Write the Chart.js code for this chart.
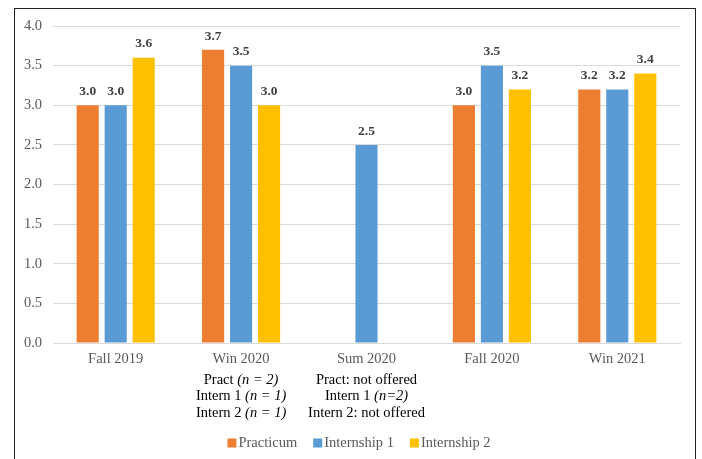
<!DOCTYPE html>
<html>
<head>
<meta charset="utf-8">
<script src="https://cdn.jsdelivr.net/npm/chart.js@4/dist/chart.umd.min.js"></script>
<style>
  html, body { margin: 0; padding: 0; background: #fff; }
  #wrap { position: relative; width: 702px; height: 459px; overflow: hidden; }
  #frame { position: absolute; left: 14px; top: 8px; width: 682px; height: 470px;
           border: 1.5px solid #222; box-sizing: border-box; pointer-events: none; }
  canvas { position: absolute; left: 0; top: 0; }
</style>
</head>
<body>
<div id="wrap">
  <canvas id="c" width="702" height="459"></canvas>
  <div id="frame"></div>
</div>
<script>
const terms = ['Fall 2019', 'Win 2020', 'Sum 2020', 'Fall 2020', 'Win 2021'];
const practicum   = [3.0, 3.7, null, 3.0, 3.2];
const internship1 = [3.0, 3.5, 2.5, 3.5, 3.2];
const internship2 = [3.6, 3.0, null, 3.2, 3.4];
const seriesNames = ['Practicum', 'Internship 1', 'Internship 2'];
const yTicks = [0, 0.5, 1, 1.5, 2, 2.5, 3, 3.5, 4];

// Enrollment notes under two of the terms; each line is a list of [text, italic] runs
const termNotes = {
  'Win 2020': [
    [['Pract ', false], ['(n = 2)', true]],
    [['Intern 1 ', false], ['(n = 1)', true]],
    [['Intern 2 ', false], ['(n = 1)', true]]
  ],
  'Sum 2020': [
    [['Pract: not offered', false]],
    [['Intern 1 ', false], ['(n=2)', true]],
    [['Intern 2: not offered', false]]
  ]
};

const SERIF = '"Liberation Serif", "Times New Roman", serif';

const valueLabels = {
  id: 'valueLabels',
  afterDatasetsDraw(chart) {
    const ctx = chart.ctx;
    ctx.save();
    ctx.font = 'bold 13.5px ' + SERIF;
    ctx.fillStyle = '#404040';
    ctx.textAlign = 'center';
    ctx.textBaseline = 'bottom';
    chart.data.datasets.forEach((ds, i) => {
      const meta = chart.getDatasetMeta(i);
      meta.data.forEach((bar, j) => {
        const v = ds.data[j];
        if (v === null || v === undefined) return;
        ctx.fillText(v.toFixed(1), bar.x, bar.y - 7);
      });
    });
    ctx.restore();
  }
};

const notes = {
  id: 'notes',
  afterDraw(chart) {
    const ctx = chart.ctx;
    const xs = chart.scales.x;
    const base = chart.chartArea.bottom;
    ctx.save();
    ctx.fillStyle = '#000';
    ctx.textBaseline = 'middle';
    terms.forEach((t, idx) => {
      const lines = termNotes[t];
      if (!lines) return;
      const cx = xs.getPixelForValue(idx);
      lines.forEach((runs, li) => {
        const y = base + 37 + li * 16.5;
        let total = 0;
        runs.forEach(([txt, it]) => {
          ctx.font = (it ? 'italic ' : '') + '14.5px ' + SERIF;
          total += ctx.measureText(txt).width;
        });
        let x = cx - total / 2;
        ctx.textAlign = 'left';
        runs.forEach(([txt, it]) => {
          ctx.font = (it ? 'italic ' : '') + '14.5px ' + SERIF;
          ctx.fillText(txt, x, y);
          x += ctx.measureText(txt).width;
        });
      });
    });
    ctx.restore();
  }
};

// Compact bottom legend: square swatch tight against its label
const compactLegend = {
  id: 'compactLegend',
  afterDraw(chart) {
    const ctx = chart.ctx;
    const box = 9, gapText = 2, gapItem = 16, cy = 443, centerX = 359;
    ctx.save();
    ctx.font = '14.5px ' + SERIF;
    const items = chart.data.datasets.map(ds => ({
      text: ds.label, color: ds.backgroundColor, w: ctx.measureText(ds.label).width
    }));
    const total = items.reduce((s, it) => s + box + gapText + it.w, 0) + gapItem * (items.length - 1);
    let x = centerX - total / 2;
    ctx.textBaseline = 'middle';
    ctx.textAlign = 'left';
    items.forEach(it => {
      ctx.fillStyle = it.color;
      ctx.fillRect(x, cy - box / 2, box, box);
      x += box + gapText;
      ctx.fillStyle = '#595959';
      ctx.fillText(it.text, x, cy);
      x += it.w + gapItem;
    });
    ctx.restore();
  }
};

new Chart(document.getElementById('c'), {
  type: 'bar',
  data: {
    labels: terms,
    datasets: [
      { label: seriesNames[0], data: practicum,   backgroundColor: '#ED7D31' },
      { label: seriesNames[1], data: internship1, backgroundColor: '#5B9BD5' },
      { label: seriesNames[2], data: internship2, backgroundColor: '#FFC000' }
    ]
  },
  options: {
    responsive: false,
    animation: false,
    devicePixelRatio: 1,
    layout: { padding: { top: 26, right: 22, left: 0, bottom: 34 } },
    datasets: { bar: { categoryPercentage: 0.67, barPercentage: 0.79 } },
    scales: {
      x: {
        grid: { display: false, drawTicks: false },
        border: { display: true, color: '#d9d9d9', width: 1 },
        ticks: { color: '#595959', font: { family: SERIF, size: 14.5 }, padding: 7 },
        afterFit(s) { s.height = 82; }
      },
      y: {
        min: 0, max: 4,
        afterBuildTicks(s) { s.ticks = yTicks.map(v => ({ value: v })); },
        grid: { color: '#d9d9d9', drawTicks: false },
        border: { display: false },
        ticks: {
          color: '#595959', font: { family: SERIF, size: 14.5 }, padding: 11,
          callback: v => Number(v).toFixed(1)
        },
        afterFit(s) { s.width = 53; }
      }
    },
    plugins: {
      tooltip: { enabled: false },
      legend: { display: false }
    }
  },
  plugins: [valueLabels, notes, compactLegend]
});
</script>
</body>
</html>
